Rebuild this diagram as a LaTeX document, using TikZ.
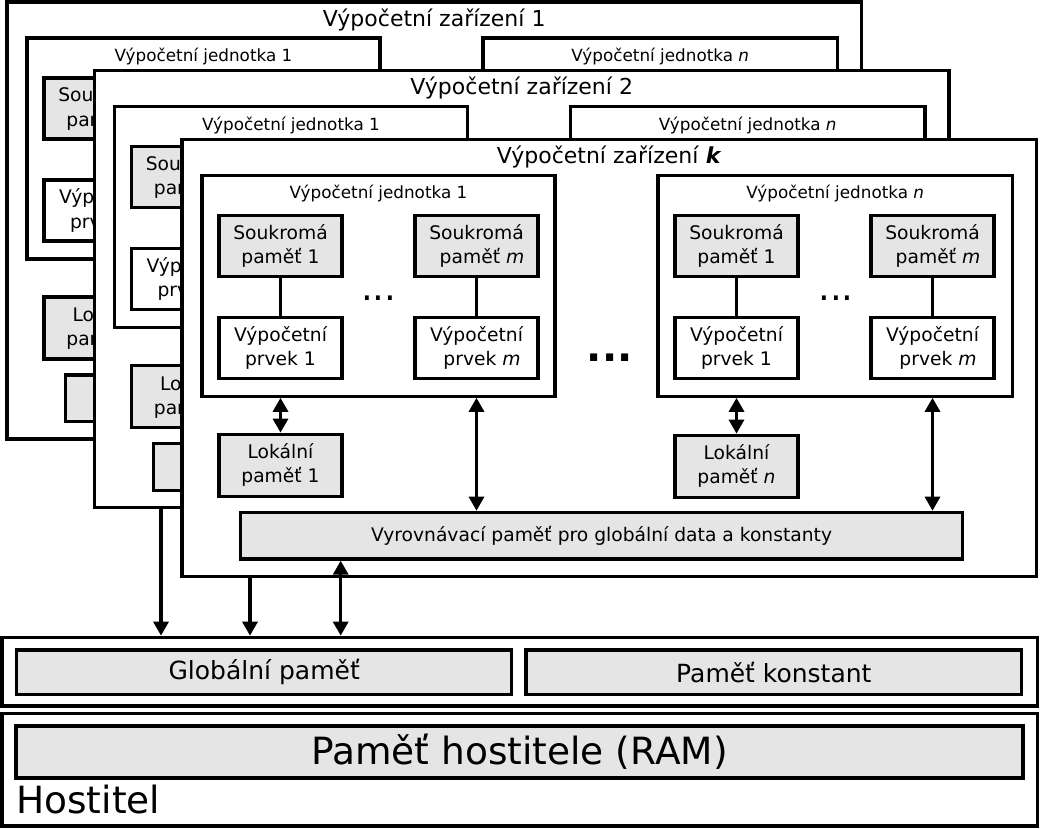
\documentclass[tikz,border=0pt]{standalone}
\usepackage{fontspec}
\setmainfont{DejaVu Sans}
\usetikzlibrary{arrows.meta}
\definecolor{memgray}{RGB}{229,229,229}
\tikzset{
  box/.style={draw, line width=3.3pt, inner sep=0pt, align=center},
  devbox/.style={box, fill=white, minimum width=854.5pt, minimum height=437pt},
  unitbox/.style={box, fill=white, minimum width=353pt, minimum height=221pt},
  memtext/.style={font=\fontsize{18.7}{24.3}\selectfont},
  mem/.style={box, memtext, fill=memgray, minimum width=123pt, minimum height=61pt},
  pe/.style={box, memtext, fill=white, minimum width=123pt, minimum height=61pt},
  devtitle/.style={anchor=base, inner sep=0pt, font=\fontsize{22}{26}\selectfont},
  unittitle/.style={anchor=base, inner sep=0pt, font=\fontsize{16.8}{20}\selectfont},
  dotstext/.style={anchor=base, inner sep=0pt, font=\fontsize{37}{40}\selectfont},
  bigdots/.style={anchor=base, inner sep=0pt, font=\fontsize{40}{44}\selectfont\bfseries},
  dbl/.style={line width=3.2pt, {Triangle[width=15pt,length=14pt]}-{Triangle[width=15pt,length=14pt]}},
  link/.style={line width=3.2pt},
}
% one device: #1 prefix, #2 x, #3 y, #4 number, #5 x of the cache arrow
\newcommand\gpudevice[5]{%
\begin{scope}[shift={(#2,#3)}]
  \node[devbox] (#1) at (427.25,218.5) {};
  \node[devtitle] (#1-t) at (427.25,24) {Výpočetní zařízení #4};
  \node[unitbox] (#1-u1) at (196.5,146.35) {};
  \node[unittitle] (#1-u1t) at (196.5,59.5) {Výpočetní jednotka 1};
  \node[unitbox, minimum width=354.5pt] (#1-un) at (653.25,146.35) {};
  \node[unittitle] (#1-unt) at (653.25,59.5) {Výpočetní jednotka \textit{n}};
  \node[mem] (#1-s11) at (98.5,106.5) {Soukromá\\paměť 1};
  \node[mem] (#1-s1m) at (294.5,106.5) {Soukromá\\\hspace*{11pt}paměť \textit{m}};
  \node[pe] (#1-p11) at (98.5,208.5) {Výpočetní\\prvek 1};
  \node[pe] (#1-p1m) at (294.5,208.5) {Výpočetní\\\hspace*{11pt}prvek \textit{m}};
  \node[mem] (#1-sn1) at (554.5,106.5) {Soukromá\\paměť 1};
  \node[mem] (#1-snm) at (750.5,106.5) {Soukromá\\\hspace*{11pt}paměť \textit{m}};
  \node[pe] (#1-pn1) at (554.5,208.5) {Výpočetní\\prvek 1};
  \node[pe] (#1-pnm) at (750.5,208.5) {Výpočetní\\\hspace*{11pt}prvek \textit{m}};
  \node[dotstext] (#1-d1) at (196.8,160.7) {...};
  \node[dotstext] (#1-dn) at (654,160.7) {...};
  \node[bigdots] (#1-dd) at (427.7,222.4) {...};
  \node[mem, minimum height=62pt] (#1-l1) at (98.5,326) {Lokální\\paměť 1};
  \node[mem, minimum height=62pt] (#1-ln) at (554.5,327) {Lokální\\paměť \textit{n}};
  \node[mem, minimum width=721.6pt, minimum height=46.7pt] (#1-c) at (419.5,396.4) {Vyrovnávací paměť pro globální data a konstanty};
  \draw[link] (#1-s11) -- (#1-p11);
  \draw[link] (#1-s1m) -- (#1-p1m);
  \draw[link] (#1-sn1) -- (#1-pn1);
  \draw[link] (#1-snm) -- (#1-pnm);
  \draw[dbl] (#1-l1.north |- #1-u1.south) -- (#1-l1.north);
  \draw[dbl] (#1-ln.north |- #1-un.south) -- (#1-ln.north);
  \draw[dbl] (#1-s1m.south |- #1-u1.south) -- (#1-s1m.south |- #1-c.north);
  \draw[dbl] (#1-snm.south |- #1-un.south) -- (#1-snm.south |- #1-c.north);
  \coordinate (#1-ca) at (#5,419.7);
  \draw[dbl] (#1-ca |- #1-c.south) -- (#1-ca |- glob.north);
\end{scope}}
\begin{document}
\begin{tikzpicture}[x=1pt,y=-1pt]
  \useasboundingbox (0,0) rectangle (1040,828);
  % global memory
  \node[box, fill=white, minimum width=1035.5pt, minimum height=68.7pt] (glob) at (519.75,671.65) {};
  \node[box, fill=memgray, minimum width=495pt, minimum height=44.7pt, font=\fontsize{25}{30}\selectfont] (gmem) at (264.2,672.35) {Globální paměť};
  \node[box, fill=memgray, minimum width=495.7pt, minimum height=44.7pt, font=\fontsize{25}{30}\selectfont] (cmem) at (773.85,672.35) {Paměť konstant};
  % host
  \node[box, fill=white, minimum width=1035.5pt, minimum height=112.7pt] (host) at (519.75,769.65) {};
  \node[box, line width=4.2pt, fill=memgray, minimum width=1007.6pt, minimum height=52pt, font=\fontsize{37.5}{44}\selectfont] (ram) at (519.5,751.7) {Paměť hostitele (RAM)};
  \node[anchor=base west, inner sep=0pt, font=\fontsize{37.5}{44}\selectfont] (hostlabel) at (16,813) {Hostitel};
  % devices, back to front
  \gpudevice{dev1}{7}{2}{1}{154}
  \gpudevice{dev2}{94.5}{70.7}{2}{155.5}
  \gpudevice{devk}{182}{139.3}{\textbf{\textit{k}}}{158.7}
\end{tikzpicture}
\end{document}
